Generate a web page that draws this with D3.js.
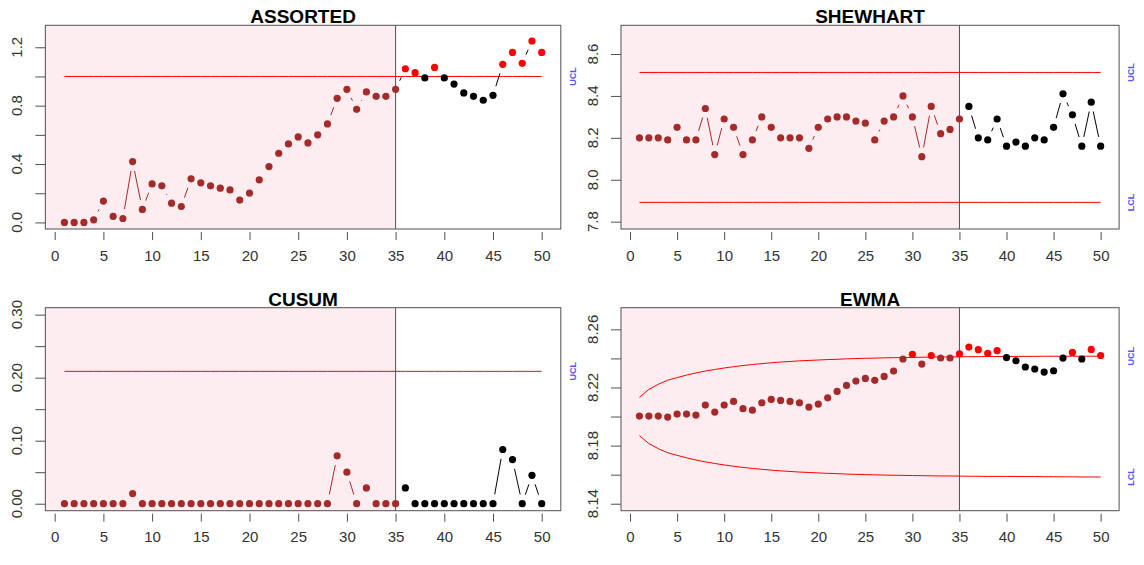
<!DOCTYPE html>
<html>
<head>
<meta charset="utf-8">
<script src="https://cdn.jsdelivr.net/npm/d3@7"></script>
<style>
  html, body { margin: 0; padding: 0; background: #fff; }
  svg { display: block; font-family: "Liberation Sans", Arial, sans-serif; }
</style>
</head>
<body>
<svg id="chart" width="1144" height="565"></svg>
<script>
// Sample index and phase split (calibration samples 1..35, new samples after)
const samples = d3.range(1, 51);
const phaseEnd = 35;

// ASSORTED statistic and its upper limit
const assorted = [0, 0, 0, 0.018, 0.146, 0.041, 0.027, 0.417, 0.089, 0.264,
  0.251, 0.132, 0.109, 0.299, 0.271, 0.251, 0.235, 0.223, 0.153, 0.201,
  0.292, 0.383, 0.474, 0.538, 0.586, 0.545, 0.600, 0.675, 0.850, 0.912,
  0.775, 0.894, 0.864, 0.864, 0.912, 1.053, 1.026, 0.990, 1.062, 0.990,
  0.948, 0.887, 0.864, 0.837, 0.871, 1.083, 1.165, 1.090, 1.243, 1.165];
const assortedUCL = 1.0;

// Shewhart individual values and limits
const shewhart = [8.20, 8.20, 8.20, 8.19, 8.25, 8.19, 8.19, 8.34, 8.12, 8.29,
  8.25, 8.12, 8.19, 8.30, 8.25, 8.20, 8.20, 8.20, 8.15, 8.25,
  8.29, 8.30, 8.30, 8.28, 8.27, 8.19, 8.28, 8.30, 8.40, 8.30,
  8.11, 8.35, 8.22, 8.24, 8.29, 8.35, 8.20, 8.19, 8.29, 8.16,
  8.18, 8.16, 8.20, 8.19, 8.25, 8.41, 8.31, 8.16, 8.37, 8.16];
const shewhartUCL = 8.512;
const shewhartLCL = 7.892;

// CUSUM statistic and decision interval
const cusum = [0, 0, 0, 0, 0, 0, 0, 0.016, 0, 0,
  0, 0, 0, 0, 0, 0, 0, 0, 0, 0,
  0, 0, 0, 0, 0, 0, 0, 0, 0.076, 0.050,
  0, 0.025, 0, 0, 0, 0.025, 0, 0, 0, 0,
  0, 0, 0, 0, 0, 0.086, 0.070, 0, 0.045, 0];
const cusumUCL = 0.21;

// EWMA statistic and its time-varying limits
const ewma = [8.2003, 8.2003, 8.2003, 8.1996, 8.2017, 8.2017, 8.2010, 8.2079, 8.2031, 8.2079,
  8.2104, 8.2054, 8.2044, 8.2095, 8.2118, 8.2111, 8.2104, 8.2095, 8.2065, 8.2086,
  8.2129, 8.2173, 8.2214, 8.2244, 8.2262, 8.2249, 8.2276, 8.2313, 8.2396, 8.2428,
  8.2361, 8.2420, 8.2403, 8.2403, 8.2432, 8.2478, 8.2460, 8.2435, 8.2453, 8.2406,
  8.2384, 8.2341, 8.2327, 8.2306, 8.2315, 8.2402, 8.2441, 8.2396, 8.2462, 8.2420];
const ewmaUCL = [8.2132, 8.2187, 8.2222, 8.2250, 8.2268, 8.2285, 8.2300, 8.2313, 8.2324, 8.2334,
  8.2343, 8.2351, 8.2358, 8.2364, 8.2370, 8.2375, 8.2379, 8.2383, 8.2386, 8.2389,
  8.2392, 8.2394, 8.2397, 8.2399, 8.2401, 8.2402, 8.2404, 8.2405, 8.2406, 8.2407,
  8.2408, 8.2409, 8.2410, 8.2410, 8.2411, 8.2412, 8.2412, 8.2413, 8.2413, 8.2413,
  8.2414, 8.2414, 8.2414, 8.2415, 8.2415, 8.2415, 8.2415, 8.2415, 8.2415, 8.2415];
const ewmaLCL = [8.1869, 8.1814, 8.1779, 8.1751, 8.1733, 8.1716, 8.1701, 8.1688, 8.1677, 8.1667,
  8.1658, 8.1650, 8.1643, 8.1637, 8.1631, 8.1626, 8.1622, 8.1618, 8.1615, 8.1612,
  8.1609, 8.1607, 8.1604, 8.1602, 8.1600, 8.1599, 8.1597, 8.1596, 8.1595, 8.1594,
  8.1593, 8.1592, 8.1591, 8.1591, 8.1590, 8.1589, 8.1589, 8.1588, 8.1588, 8.1588,
  8.1587, 8.1587, 8.1587, 8.1586, 8.1586, 8.1585, 8.1585, 8.1584, 8.1584, 8.1584];

// Axis ticks
const xTicks = [0, 5, 10, 15, 20, 25, 30, 35, 40, 45, 50];
const assortedTicks = [0, 0.2, 0.4, 0.6, 0.8, 1.0, 1.2];
const assortedLabels = ["0.0", "", "0.4", "", "0.8", "", "1.2"];
const shewhartTicks = [7.8, 8.0, 8.2, 8.4, 8.6];
const shewhartLabels = ["7.8", "8.0", "8.2", "8.4", "8.6"];
const cusumTicks = [0, 0.05, 0.10, 0.15, 0.20, 0.25, 0.30];
const cusumLabels = ["0.00", "", "0.10", "", "0.20", "", "0.30"];
const ewmaTicks = [8.14, 8.16, 8.18, 8.20, 8.22, 8.24, 8.26];
const ewmaLabels = ["8.14", "", "8.18", "", "8.22", "", "8.26"];

const COL_PHASE1 = "#a52a2a";
const COL_PHASE2 = "#000000";
const COL_OUT = "#ff0000";
const COL_LIMIT = "#ff0000";
const COL_SHADE = "#fdedf1";
const COL_FRAME = "#505050";
const COL_LABEL = "#5555ff";

const svg = d3.select("#chart");

const panels = [
  { title: "ASSORTED", box: [45.35, 25.3, 560.8, 229], yDom: [-0.045, 1.3505],
    values: assorted, ucl: samples.map(() => assortedUCL), lcl: null,
    ticks: assortedTicks, labels: assortedLabels },
  { title: "SHEWHART", box: [621, 25.3, 1119.1, 229], yDom: [7.765, 8.737],
    values: shewhart, ucl: samples.map(() => shewhartUCL), lcl: samples.map(() => shewhartLCL),
    ticks: shewhartTicks, labels: shewhartLabels },
  { title: "CUSUM", box: [45.35, 307.7, 560.8, 510.7], yDom: [-0.0111, 0.311],
    values: cusum, ucl: samples.map(() => cusumUCL), lcl: null,
    ticks: cusumTicks, labels: cusumLabels },
  { title: "EWMA", box: [621, 307.7, 1119.1, 510.7], yDom: [8.1352, 8.2749],
    values: ewma, ucl: ewmaUCL, lcl: ewmaLCL,
    ticks: ewmaTicks, labels: ewmaLabels }
];

const GAP = 9.5;   // blank space left around each point on the connecting lines
const R = 3.6;     // point radius

panels.forEach(p => {
  const [x0, y0, x1, y1] = p.box;
  const x = d3.scaleLinear().domain([-0.96, 51.96]).range([x0, x1]);
  const y = d3.scaleLinear().domain(p.yDom).range([y1, y0]);
  const g = svg.append("g");

  // calibration phase shading
  g.append("rect")
    .attr("x", x0).attr("y", y0)
    .attr("width", x(phaseEnd) - x0).attr("height", y1 - y0)
    .attr("fill", COL_SHADE);

  // control limits
  const limitLine = d3.line().x((d, i) => x(samples[i])).y(d => y(d));
  g.append("path").attr("d", limitLine(p.ucl))
    .attr("fill", "none").attr("stroke", COL_LIMIT).attr("stroke-width", 1);
  if (p.lcl) {
    g.append("path").attr("d", limitLine(p.lcl))
      .attr("fill", "none").attr("stroke", COL_LIMIT).attr("stroke-width", 1);
  }

  // phase boundary
  g.append("line")
    .attr("x1", x(phaseEnd)).attr("x2", x(phaseEnd))
    .attr("y1", y0).attr("y2", y1)
    .attr("stroke", COL_FRAME).attr("stroke-width", 1);

  // connecting segments with gaps around points
  for (let i = 0; i < samples.length - 1; i++) {
    const ax = x(samples[i]), ay = y(p.values[i]);
    const bx = x(samples[i + 1]), by = y(p.values[i + 1]);
    const d = Math.hypot(bx - ax, by - ay);
    if (d <= 2 * GAP) continue;
    const ux = (bx - ax) / d, uy = (by - ay) / d;
    g.append("line")
      .attr("x1", ax + ux * GAP).attr("y1", ay + uy * GAP)
      .attr("x2", bx - ux * GAP).attr("y2", by - uy * GAP)
      .attr("stroke", samples[i + 1] <= phaseEnd ? COL_PHASE1 : COL_PHASE2)
      .attr("stroke-width", 1);
  }

  // points
  g.selectAll("circle.pt").data(p.values).join("circle")
    .attr("class", "pt")
    .attr("cx", (d, i) => x(samples[i]))
    .attr("cy", d => y(d))
    .attr("r", R)
    .attr("fill", (d, i) => {
      const out = d > p.ucl[i] || (p.lcl && d < p.lcl[i]);
      if (out) return COL_OUT;
      return samples[i] <= phaseEnd ? COL_PHASE1 : COL_PHASE2;
    });

  // frame
  g.append("rect")
    .attr("x", x0).attr("y", y0)
    .attr("width", x1 - x0).attr("height", y1 - y0)
    .attr("fill", "none").attr("stroke", COL_FRAME).attr("stroke-width", 1);

  // x axis
  const xa = g.append("g").attr("transform", `translate(0,${y1})`)
    .call(d3.axisBottom(x).tickValues(xTicks).tickSize(8).tickPadding(13).tickSizeOuter(0));
  xa.select(".domain").remove();
  xa.selectAll(".tick line").attr("stroke", COL_FRAME).attr("y1", 3).attr("y2", 11);
  xa.selectAll(".tick text").attr("font-size", 15).attr("fill", "#333")
    .attr("font-family", "Liberation Sans, Arial, sans-serif");

  // y axis
  const ya = g.append("g").attr("transform", `translate(${x0},0)`)
    .call(d3.axisLeft(y).tickValues(p.ticks).tickSize(10).tickFormat("").tickSizeOuter(0));
  ya.select(".domain").remove();
  ya.selectAll(".tick line").attr("stroke", COL_FRAME);
  g.selectAll("text.ylab").data(p.ticks).join("text")
    .attr("class", "ylab")
    .attr("transform", d => `translate(${x0 - 23},${y(d)}) rotate(-90)`)
    .attr("text-anchor", "middle")
    .attr("font-size", 15).attr("fill", "#333")
    .text((d, i) => p.labels[i]);

  // title
  g.append("text")
    .attr("x", (x0 + x1) / 2).attr("y", y0 - 2)
    .attr("text-anchor", "middle")
    .attr("font-size", 19).attr("font-weight", "bold").attr("fill", "#000")
    .text(p.title);

  // limit labels in the right margin
  const lab = [["UCL", p.ucl[p.ucl.length - 1]]];
  if (p.lcl) lab.push(["LCL", p.lcl[p.lcl.length - 1]]);
  lab.forEach(([t, v]) => {
    g.append("text")
      .attr("transform", `translate(${x1 + 15},${y(v)}) rotate(-90)`)
      .attr("text-anchor", "middle")
      .attr("font-size", 9).attr("font-weight", "bold").attr("fill", COL_LABEL)
      .text(t);
  });
});
</script>
</body>
</html>
